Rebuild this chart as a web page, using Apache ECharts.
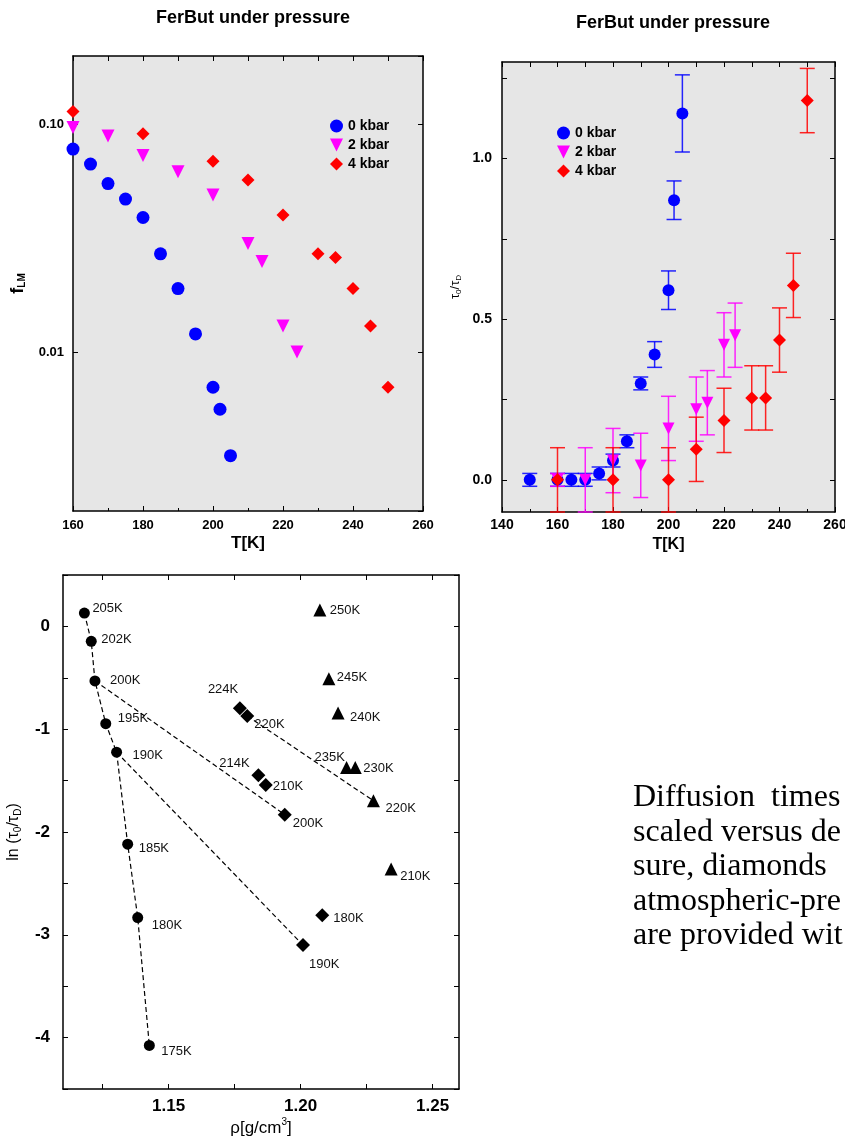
<!DOCTYPE html>
<html>
<head>
<meta charset="utf-8">
<script src="https://cdn.jsdelivr.net/npm/echarts@6.0.0/dist/echarts.min.js"></script>
<style>
  html, body { margin: 0; padding: 0; background: #fff; }
  #main { width: 845px; height: 1141px; }
</style>
</head>
<body>
<div id="main"></div>
<script>
// f_LM vs T (top left)
const tempF0 = [160, 165, 170, 175, 180, 185, 190, 195, 200, 202, 205];
const fLM0 = [0.078, 0.067, 0.055, 0.047, 0.039, 0.027, 0.019, 0.012, 0.0070, 0.0056, 0.0035];
const tempF2 = [160, 170, 180, 190, 200, 210, 214, 220, 224];
const fLM2 = [0.097, 0.089, 0.073, 0.062, 0.049, 0.030, 0.025, 0.013, 0.010];
const tempF4 = [160, 180, 200, 210, 220, 230, 235, 240, 245, 250];
const fLM4 = [0.114, 0.091, 0.069, 0.057, 0.040, 0.027, 0.026, 0.019, 0.013, 0.0070];

// tau0/tauD vs T with error bars (top right)
const tempR0 = [150, 160, 165, 170, 175, 180, 185, 190, 195, 200, 202, 205];
const ratio0 = [0, 0, 0, 0, 0.02, 0.06, 0.12, 0.30, 0.39, 0.59, 0.87, 1.14];
const err0 = [0.02, 0.02, 0.02, 0.02, 0.02, 0.02, 0.02, 0.02, 0.04, 0.06, 0.06, 0.12];
const tempR2 = [160, 170, 180, 190, 200, 210, 214, 220, 224];
const ratio2 = [0, 0, 0.06, 0.045, 0.16, 0.22, 0.24, 0.42, 0.45];
const err2 = [0.02, 0.10, 0.10, 0.10, 0.10, 0.10, 0.10, 0.10, 0.10];
const tempR4 = [160, 180, 200, 210, 220, 230, 235, 240, 245, 250];
const ratio4 = [0, 0, 0, 0.095, 0.185, 0.255, 0.255, 0.435, 0.605, 1.18];
const err4 = [0.10, 0.10, 0.10, 0.10, 0.10, 0.10, 0.10, 0.10, 0.10, 0.10];

// ln(tau0/tauD) vs density (bottom)
const rho0 = [1.1181, 1.1207, 1.1221, 1.1262, 1.1303, 1.1345, 1.1383, 1.1427];
const lnTau0 = [0.13, -0.145, -0.53, -0.946, -1.224, -2.118, -2.832, -4.076];
const tLab0 = ['205K', '202K', '200K', '195K', '190K', '185K', '180K', '175K'];
const rho2 = [1.1770, 1.1798, 1.1840, 1.1868, 1.1940, 1.2009, 1.2082];
const lnTau2 = [-0.797, -0.872, -1.447, -1.544, -1.831, -3.10, -2.81];
const tLab2 = ['224K', '220K', '214K', '210K', '200K', '190K', '180K'];
const rho4 = [1.2073, 1.2107, 1.2142, 1.2174, 1.2207, 1.2276, 1.2343];
const lnTau4 = [0.159, -0.51, -0.843, -1.372, -1.372, -1.696, -2.36];
const tLab4 = ['250K', '245K', '240K', '235K', '230K', '220K', '210K'];

const seriesNames = ['0 kbar', '2 kbar', '4 kbar'];
const textLines = ['Diffusion  times', 'scaled versus de', 'sure, diamonds', 'atmospheric-pre', 'are provided wit'];

const BLUE = '#0000ff', MAGENTA = '#ff00ff', RED = '#ff0000';
const SANS = '"Liberation Sans", Arial, sans-serif';
const DOWN_TRIANGLE = 'path://M0,0L10,0L5,10Z';

// label placement next to the points of the bottom panel: [dx, dy] from marker centre
const labelOffsets = {
  c: { '205K': [8, -5], '202K': [10, -2], '200K': [15, 0], '195K': [12, -5], '190K': [16, 3],
       '185K': [11, 4], '180K': [14, 8], '175K': [12, 6] },
  d: { '224K': [-32, -19], '220K': [7, 8], '214K': [-39, -12], '210K': [7, 1], '200K': [8, 9],
       '190K': [6, 19], '180K': [11, 3] },
  t: { '250K': [10, 0], '245K': [8, -1], '240K': [12, 4], '235K': [-32, -10], '230K': [8, 1],
       '220K': [12, 8], '210K': [9, 7] }
};

const zip = (xs, ys) => xs.map((x, i) => [x, ys[i]]);
const bars = (xs, ys, es) => xs.map((x, i) => [x, ys[i] - es[i], ys[i] + es[i]]);
const labelled = (xs, ys, names, key) => xs.map((x, i) => ({
  value: [x, ys[i]],
  name: names[i],
  label: { offset: labelOffsets[key][names[i]] }
}));
const pick = (xs, ys, names, name) => {
  let i = names.indexOf(name);
  return [xs[i], ys[i]];
};

function errorBars(color) {
  return function (params, api) {
    let x = api.value(0);
    let lo = api.coord([x, api.value(1)]);
    let hi = api.coord([x, api.value(2)]);
    let w = 7.5;
    let style = { stroke: color, lineWidth: 1.5, opacity: 0.85 };
    return {
      type: 'group',
      children: [
        { type: 'line', shape: { x1: hi[0], y1: hi[1], x2: lo[0], y2: lo[1] }, style: style },
        { type: 'line', shape: { x1: hi[0] - w, y1: hi[1], x2: hi[0] + w, y2: hi[1] }, style: style },
        { type: 'line', shape: { x1: lo[0] - w, y1: lo[1], x2: lo[0] + w, y2: lo[1] }, style: style }
      ]
    };
  };
}

const axisLine = { show: true, onZero: false, lineStyle: { color: '#000', width: 1.5 } };
const tick = { show: true, inside: true, length: 5, lineStyle: { color: '#000', width: 1 } };
const noLabel = { show: false };
const boldLabel = (size, margin) => ({ color: '#000', fontFamily: SANS, fontWeight: 'bold', fontSize: size, margin: margin });
const legendData = [
  { name: seriesNames[0], icon: 'circle' },
  { name: seriesNames[1], icon: DOWN_TRIANGLE },
  { name: seriesNames[2], icon: 'diamond' }
];

let chart = echarts.init(document.getElementById('main'), null, { renderer: 'canvas' });

let option = {
  animation: false,
  backgroundColor: '#fff',
  title: [
    { text: 'FerBut under pressure', left: 248, top: 4, textAlign: 'center',
      textStyle: { fontFamily: SANS, fontWeight: 'bold', fontSize: 18, color: '#000' } },
    { text: 'FerBut under pressure', left: 668, top: 9, textAlign: 'center',
      textStyle: { fontFamily: SANS, fontWeight: 'bold', fontSize: 18, color: '#000' } }
  ],
  legend: [
    { data: legendData, orient: 'vertical', left: 325, top: 114, itemWidth: 13, itemHeight: 13, itemGap: 5,
      textStyle: { fontFamily: SANS, fontWeight: 'bold', fontSize: 14, color: '#000' } },
    { data: legendData, orient: 'vertical', left: 552, top: 121, itemWidth: 13, itemHeight: 13, itemGap: 5,
      textStyle: { fontFamily: SANS, fontWeight: 'bold', fontSize: 14, color: '#000' } }
  ],
  grid: [
    { left: 73, top: 56, width: 350, height: 455, show: true, backgroundColor: '#e6e6e6', borderWidth: 0, outerBoundsMode: 'none' },
    { left: 502, top: 62, width: 333, height: 450, show: true, backgroundColor: '#e6e6e6', borderWidth: 0, outerBoundsMode: 'none' },
    { left: 63, top: 575, width: 396, height: 514, show: false, outerBoundsMode: 'none' }
  ],
  xAxis: [
    { gridIndex: 0, type: 'value', position: 'bottom', min: 160, max: 260, interval: 20,
      axisLine: axisLine, axisTick: tick, minorTick: { show: true, splitNumber: 2, length: 3, lineStyle: { color: '#000' } },
      splitLine: { show: false }, axisLabel: boldLabel(13, 8),
      name: 'T[K]', nameLocation: 'middle', nameGap: 24,
      nameTextStyle: { fontFamily: SANS, fontWeight: 'bold', fontSize: 17, color: '#000' } },
    { gridIndex: 0, type: 'value', position: 'top', min: 160, max: 260, interval: 10,
      axisLine: axisLine, axisTick: tick, splitLine: { show: false }, axisLabel: noLabel },
    { gridIndex: 1, type: 'value', position: 'bottom', min: 140, max: 260, interval: 20,
      axisLine: axisLine, axisTick: tick, minorTick: { show: true, splitNumber: 2, length: 3, lineStyle: { color: '#000' } },
      splitLine: { show: false }, axisLabel: boldLabel(14, 6),
      name: 'T[K]', nameLocation: 'middle', nameGap: 25,
      nameTextStyle: { fontFamily: SANS, fontWeight: 'bold', fontSize: 16, color: '#000' } },
    { gridIndex: 1, type: 'value', position: 'top', min: 140, max: 260, interval: 10,
      axisLine: axisLine, axisTick: tick, splitLine: { show: false }, axisLabel: noLabel },
    { gridIndex: 2, type: 'value', position: 'bottom', min: 1.11, max: 1.26,
      axisLine: axisLine,
      axisTick: Object.assign({}, tick, { customValues: [1.125, 1.15, 1.175, 1.2, 1.225, 1.25] }),
      splitLine: { show: false },
      axisLabel: Object.assign(boldLabel(17, 9), { customValues: [1.15, 1.2, 1.25], formatter: v => v.toFixed(2) }),
      name: '{t|ρ[g/cm}{sup|3}{t|]}', nameLocation: 'middle', nameGap: 28,
      nameTextStyle: { rich: {
        t: { fontFamily: SANS, fontSize: 17, color: '#000' },
        sup: { fontFamily: SANS, fontSize: 10, color: '#000', padding: [0, 0, 12, 0] }
      } } },
    { gridIndex: 2, type: 'value', position: 'top', min: 1.11, max: 1.26,
      axisLine: axisLine,
      axisTick: Object.assign({}, tick, { customValues: [1.125, 1.15, 1.175, 1.2, 1.225, 1.25] }),
      splitLine: { show: false }, axisLabel: noLabel }
  ],
  yAxis: [
    { gridIndex: 0, type: 'log', logBase: 10, position: 'left', min: 0.002, max: 0.2,
      axisLine: axisLine, axisTick: tick, splitLine: { show: false },
      axisLabel: Object.assign(boldLabel(13, 9), { showMinLabel: false, showMaxLabel: false, formatter: v => v.toFixed(2) }),
      name: '{f|f}{s|LM}', nameLocation: 'middle', nameGap: 46,
      nameTextStyle: { rich: {
        f: { fontFamily: SANS, fontWeight: 'bold', fontSize: 18, color: '#000' },
        s: { fontFamily: SANS, fontWeight: 'bold', fontSize: 10, color: '#000', padding: [8, 0, 0, 0] }
      } } },
    { gridIndex: 0, type: 'log', logBase: 10, position: 'right', min: 0.002, max: 0.2,
      axisLine: axisLine, axisTick: tick, splitLine: { show: false }, axisLabel: noLabel },
    { gridIndex: 1, type: 'value', position: 'left', min: -0.1, max: 1.3,
      axisLine: axisLine,
      axisTick: Object.assign({}, tick, { customValues: [0, 0.25, 0.5, 0.75, 1, 1.25] }),
      splitLine: { show: false },
      axisLabel: Object.assign(boldLabel(14, 10), { customValues: [0, 0.5, 1], formatter: v => v.toFixed(1) }),
      name: '{t|τ}{s|0}{t|/τ}{s|D}', nameLocation: 'middle', nameGap: 39,
      nameTextStyle: { rich: {
        t: { fontFamily: SANS, fontSize: 13, color: '#000' },
        s: { fontFamily: SANS, fontSize: 8, color: '#000', padding: [7, 0, 0, 0] }
      } } },
    { gridIndex: 1, type: 'value', position: 'right', min: -0.1, max: 1.3,
      axisLine: axisLine,
      axisTick: Object.assign({}, tick, { customValues: [0, 0.25, 0.5, 0.75, 1, 1.25] }),
      splitLine: { show: false }, axisLabel: noLabel },
    { gridIndex: 2, type: 'value', position: 'left', min: -4.5, max: 0.5, interval: 0.5,
      axisLine: axisLine, axisTick: tick, splitLine: { show: false },
      axisLabel: Object.assign(boldLabel(17, 13), { formatter: v => Math.abs(v - Math.round(v)) < 1e-9 ? String(Math.round(v)) : '' }),
      name: '{t|ln (τ}{s|0}{t|/τ}{s|D}{t|)}', nameLocation: 'middle', nameGap: 40,
      nameTextStyle: { rich: {
        t: { fontFamily: SANS, fontSize: 16, color: '#000' },
        s: { fontFamily: SANS, fontSize: 10, color: '#000', padding: [8, 0, 0, 0] }
      } } },
    { gridIndex: 2, type: 'value', position: 'right', min: -4.5, max: 0.5, interval: 0.5,
      axisLine: axisLine, axisTick: tick, splitLine: { show: false }, axisLabel: noLabel }
  ],
  graphic: textLines.map((line, i) => ({
    type: 'text', left: 633, top: 782 + i * 34.5, z: 10,
    style: { text: line, fontFamily: '"Liberation Serif", "Times New Roman", serif', fontSize: 32, fill: '#000' }
  })),
  series: [
    // top left
    { name: seriesNames[0], type: 'scatter', xAxisIndex: 0, yAxisIndex: 0, symbol: 'circle', symbolSize: 13,
      itemStyle: { color: BLUE, opacity: 1 }, data: zip(tempF0, fLM0) },
    { name: seriesNames[1], type: 'scatter', xAxisIndex: 0, yAxisIndex: 0, symbol: 'triangle', symbolRotate: 180, symbolSize: 13,
      itemStyle: { color: MAGENTA, opacity: 1 }, data: zip(tempF2, fLM2) },
    { name: seriesNames[2], type: 'scatter', xAxisIndex: 0, yAxisIndex: 0, symbol: 'diamond', symbolSize: 13,
      itemStyle: { color: RED, opacity: 1 }, data: zip(tempF4, fLM4) },
    // top right
    { name: 'err0', type: 'custom', xAxisIndex: 2, yAxisIndex: 2, renderItem: errorBars(BLUE),
      encode: { x: 0, y: [1, 2] }, data: bars(tempR0, ratio0, err0), z: 2 },
    { name: seriesNames[0], type: 'scatter', xAxisIndex: 2, yAxisIndex: 2, symbol: 'circle', symbolSize: 12,
      itemStyle: { color: BLUE, opacity: 1 }, data: zip(tempR0, ratio0), z: 3 },
    { name: 'err2', type: 'custom', xAxisIndex: 2, yAxisIndex: 2, renderItem: errorBars(MAGENTA),
      encode: { x: 0, y: [1, 2] }, data: bars(tempR2, ratio2, err2), z: 4 },
    { name: seriesNames[1], type: 'scatter', xAxisIndex: 2, yAxisIndex: 2, symbol: 'triangle', symbolRotate: 180, symbolSize: 12,
      itemStyle: { color: MAGENTA, opacity: 1 }, data: zip(tempR2, ratio2), z: 5 },
    { name: 'err4', type: 'custom', xAxisIndex: 2, yAxisIndex: 2, renderItem: errorBars(RED),
      encode: { x: 0, y: [1, 2] }, data: bars(tempR4, ratio4, err4), z: 6 },
    { name: seriesNames[2], type: 'scatter', xAxisIndex: 2, yAxisIndex: 2, symbol: 'diamond', symbolSize: 13,
      itemStyle: { color: RED, opacity: 1 }, data: zip(tempR4, ratio4), z: 7 },
    // bottom: dashed isotherms
    { name: 'iso circles', type: 'line', xAxisIndex: 4, yAxisIndex: 4, symbol: 'none',
      lineStyle: { color: '#000', width: 1.2, type: [5, 3] }, data: zip(rho0, lnTau0) },
    { name: 'iso 200K', type: 'line', xAxisIndex: 4, yAxisIndex: 4, symbol: 'none',
      lineStyle: { color: '#000', width: 1.2, type: [5, 3] },
      data: [pick(rho0, lnTau0, tLab0, '200K'), pick(rho2, lnTau2, tLab2, '200K')] },
    { name: 'iso 190K', type: 'line', xAxisIndex: 4, yAxisIndex: 4, symbol: 'none',
      lineStyle: { color: '#000', width: 1.2, type: [5, 3] },
      data: [pick(rho0, lnTau0, tLab0, '190K'), pick(rho2, lnTau2, tLab2, '190K')] },
    { name: 'iso 220K', type: 'line', xAxisIndex: 4, yAxisIndex: 4, symbol: 'none',
      lineStyle: { color: '#000', width: 1.2, type: [5, 3] },
      data: [pick(rho2, lnTau2, tLab2, '220K'), pick(rho4, lnTau4, tLab4, '220K')] },
    // bottom: points
    { name: 'rho 0', type: 'scatter', xAxisIndex: 4, yAxisIndex: 4, symbol: 'circle', symbolSize: 11,
      itemStyle: { color: '#000', opacity: 1 }, data: labelled(rho0, lnTau0, tLab0, 'c'),
      label: { show: true, position: 'inside', align: 'left', verticalAlign: 'middle', formatter: '{b}',
        fontFamily: SANS, fontSize: 13, color: '#111' } },
    { name: 'rho 2', type: 'scatter', xAxisIndex: 4, yAxisIndex: 4, symbol: 'diamond', symbolSize: 14,
      itemStyle: { color: '#000', opacity: 1 }, data: labelled(rho2, lnTau2, tLab2, 'd'),
      label: { show: true, position: 'inside', align: 'left', verticalAlign: 'middle', formatter: '{b}',
        fontFamily: SANS, fontSize: 13, color: '#111' } },
    { name: 'rho 4', type: 'scatter', xAxisIndex: 4, yAxisIndex: 4, symbol: 'triangle', symbolSize: 13,
      itemStyle: { color: '#000', opacity: 1 }, data: labelled(rho4, lnTau4, tLab4, 't'),
      label: { show: true, position: 'inside', align: 'left', verticalAlign: 'middle', formatter: '{b}',
        fontFamily: SANS, fontSize: 13, color: '#111' } }
  ]
};

chart.setOption(option);
</script>
</body>
</html>
